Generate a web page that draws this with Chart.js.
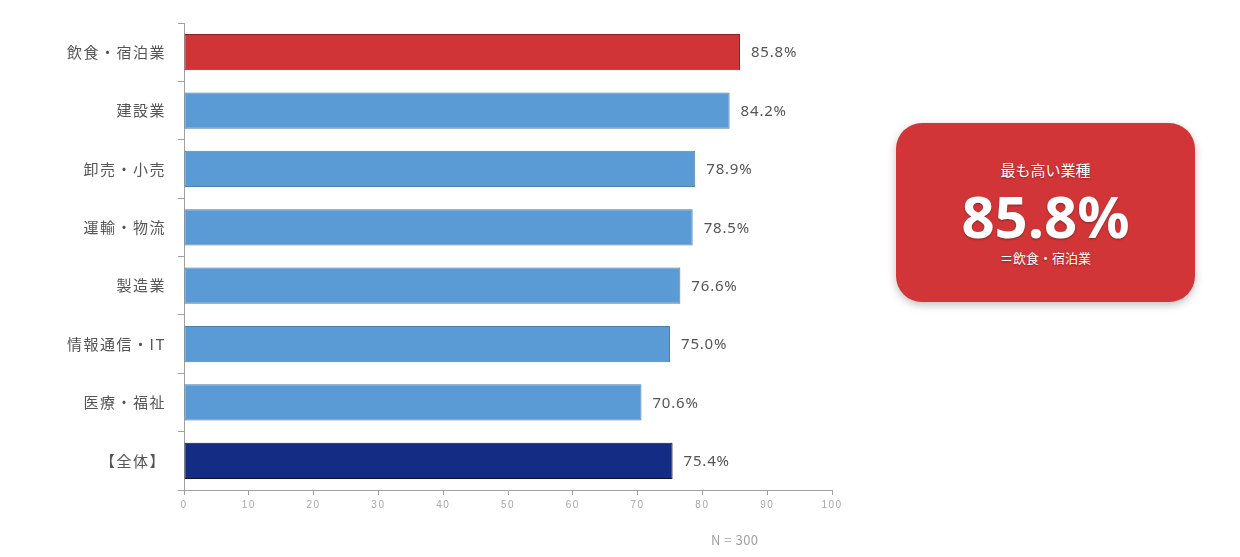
<!DOCTYPE html>
<html lang="ja">
<head>
<meta charset="utf-8">
<script src="https://cdn.jsdelivr.net/npm/chart.js@4.4.1/dist/chart.umd.min.js"></script>
<style>
  html, body { margin: 0; padding: 0; background: #ffffff; }
  body { width: 1240px; height: 557px; position: relative; overflow: hidden;
         font-family: "Noto Sans CJK JP", "Noto Sans", sans-serif; }
  #wrap { position: absolute; left: 0; top: 0; width: 860px; height: 557px; }
  #note { position: absolute; left: 711px; top: 530px; font-size: 13px; color: #a0a0a0; letter-spacing: 0.5px; }
  #badge {
    position: absolute; left: 896px; top: 123px; width: 299px; height: 179px;
    background: #d13537; border-radius: 26px; color: #fff; text-align: center;
    box-shadow: 0 3px 8px rgba(0,0,0,0.25);
    text-shadow: 0 1px 2px rgba(0,0,0,0.35);
  }
  #badge .t1 { position: absolute; left: 0; right: 0; top: 36px; font-size: 15px; }
  #badge .t2 { position: absolute; left: 0; right: 0; top: 64px; font-size: 58px; font-weight: bold;
               font-family: "Noto Sans", "Open Sans", sans-serif; line-height: 1; }
  #badge .t3 { position: absolute; left: 0; right: 0; top: 125px; font-size: 13px; }
</style>
</head>
<body>
<div id="wrap"><canvas id="chart"></canvas></div>
<div id="note">N = 300</div>
<div id="badge">
  <div class="t1">最も高い業種</div>
  <div class="t2">85.8%</div>
  <div class="t3">＝飲食・宿泊業</div>
</div>
<script>
  var categories = ['飲食・宿泊業', '建設業', '卸売・小売', '運輸・物流', '製造業', '情報通信・IT', '医療・福祉', '【全体】'];
  var values = [85.8, 84.2, 78.9, 78.5, 76.6, 75.0, 70.6, 75.4];
  var barColors = ['#d13436', '#5b9bd5', '#5b9bd5', '#5b9bd5', '#5b9bd5', '#5b9bd5', '#5b9bd5', '#142c84'];
  var borderColors = ['#8a2020', '#4a7fb0', '#4a7fb0', '#4a7fb0', '#4a7fb0', '#4a7fb0', '#4a7fb0', '#0b1030'];
  var xTicks = [0, 10, 20, 30, 40, 50, 60, 70, 80, 90, 100];

  // wider spacing for the category labels, like the original
  var spacing = {
    id: 'spacing',
    beforeDraw: function(chart) { chart.ctx.letterSpacing = '1.5px'; },
    afterDraw: function(chart) { chart.ctx.letterSpacing = '0px'; }
  };

  var valueLabels = {
    id: 'valueLabels',
    afterDatasetsDraw: function(chart) {
      var ctx = chart.ctx;
      var meta = chart.getDatasetMeta(0);
      ctx.save();
      ctx.letterSpacing = '0.8px';
      ctx.font = '15px "Noto Sans", "Open Sans", sans-serif';
      ctx.fillStyle = '#555555';
      ctx.textAlign = 'left';
      ctx.textBaseline = 'middle';
      meta.data.forEach(function(bar, i) {
        ctx.fillText(values[i].toFixed(1) + '%', bar.x + 11, bar.y + 1);
      });
      ctx.restore();
    }
  };

  new Chart(document.getElementById('chart').getContext('2d'), {
    type: 'bar',
    data: {
      labels: categories,
      datasets: [{
        data: values,
        backgroundColor: barColors,
        borderColor: borderColors,
        borderWidth: 1,
        borderSkipped: false,
        barPercentage: 0.62,
        categoryPercentage: 1.0
      }]
    },
    options: {
      indexAxis: 'y',
      responsive: true,
      maintainAspectRatio: false,
      animation: false,
      layout: { padding: { top: 23, right: 28, bottom: 37, left: 0 } },
      plugins: {
        legend: { display: false },
        tooltip: { enabled: false }
      },
      scales: {
        x: {
          min: 0,
          max: 100,
          afterBuildTicks: function(scale) {
            scale.ticks = xTicks.map(function(v) { return { value: v }; });
          },
          afterFit: function(scale) { scale.height = 30; },
          grid: { drawOnChartArea: false, color: '#a0a0a0', tickLength: 5 },
          border: { color: '#a0a0a0' },
          ticks: { color: '#a8a8a8', font: { size: 10 }, padding: 4 }
        },
        y: {
          afterFit: function(scale) { scale.width = 184; },
          grid: { drawOnChartArea: false, color: '#a0a0a0', tickLength: 6, offset: true },
          border: { color: '#a0a0a0' },
          ticks: {
            color: '#555555',
            padding: 12,
            font: { size: 15, family: '"Noto Sans CJK JP", sans-serif' }
          }
        }
      }
    },
    plugins: [spacing, valueLabels]
  });
</script>
</body>
</html>
